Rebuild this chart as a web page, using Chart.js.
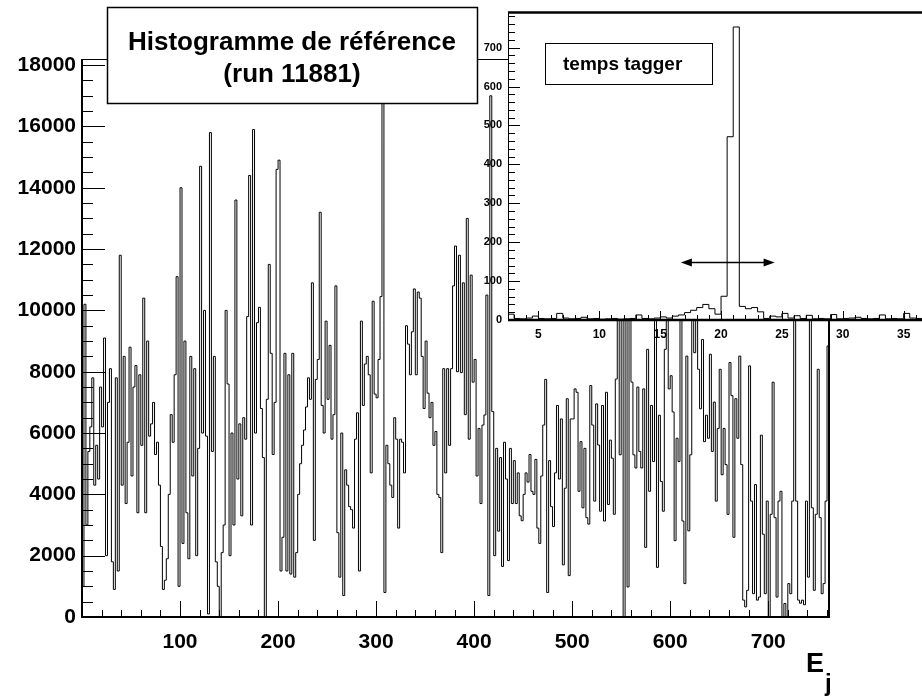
<!DOCTYPE html>
<html>
<head>
<meta charset="utf-8">
<script src="https://cdn.jsdelivr.net/npm/chart.js@4.4.1/dist/chart.umd.min.js"></script>
<style>
  html, body { margin:0; padding:0; background:#fff; overflow:hidden; }
  #wrap  { position:relative; width:922px; height:698px; overflow:hidden; }
  #main  { position:absolute; left:0; top:0; }
  #inset { position:absolute; left:470px; top:0; }
</style>
</head>
<body>
<div id="wrap">
  <canvas id="main" width="922" height="698"></canvas>
  <canvas id="inset" width="470" height="350"></canvas>
</div>
<script>
// main histogram: bins of 2 units from 0 to 762
const binWidth = 2;
const xMin = 0, xMax = 762, yMax = 18200;
const xTicks = [100, 200, 300, 400, 500, 600, 700];
const yTicks = [0, 2000, 4000, 6000, 8000, 10000, 12000, 14000, 16000, 18000];

const counts000 = [1000,10200,3000,5400,6200,7800,4300,5600,4500,7500, 6200,9100,2000,7000,8100,1800,900,7800,1500,11800,
                   4300,8500,3700,5700,8800,4600,7500,8200,3400,7900, 5600,10400,3400,9000,5900,6300,7000,5300,5700,4300,
                   2300,900,1200,1900,4000,6600,5700,7900,11100,1000];
const counts100 = [14000,2400,9000,3400,1900,8500,4600,8100,2000,5500, 14700,6000,10000,5900,100,15800,5400,8500,1800,1000,
                   0,2100,3000,10000,7600,2000,6000,3000,13600,4500, 6300,3300,6500,5800,9800,14400,3000,15900,6000,9600,
                   10100,6800,5200,0,7100,11500,8600,5300,7000,14600];
const counts200 = [14900,1500,2600,8600,1500,7900,1400,8600,1300,2100, 4000,5000,5600,6100,6850,7800,7100,10900,2500,7750,
                   8400,13200,6900,6000,9650,7100,8860,5800,6600,10800, 2750,1300,6000,700,4800,4300,3600,3500,2900,5800,
                   6660,1500,9650,6900,8250,8500,7900,4700,10300,7270];
const counts300 = [7150,8400,10450,26000,800,5600,5000,4300,3900,6500, 5800,2900,5800,5700,4700,9500,8900,7900,9300,10700,
                   7900,10600,10400,8500,6800,9000,7300,6500,7000,5600, 6050,4000,3900,2100,8100,4700,8100,5600,8100,10800,
                   12100,8000,11800,7970,10900,6600,13000,5800,11150,7660];
const counts400 = [8400,4600,6150,3700,6260,6590,10500,700,17000,6700, 2000,5500,2800,5200,1650,5700,4500,1840,5500,3700,
                   5100,3700,4700,3300,3140,4000,4700,4400,5300,4100, 4000,5140,2900,2400,4600,6260,7750,800,5100,3600,
                   2950,4700,6900,4500,6460,1700,4200,7120,1350,6460];
const counts500 = [6460,7440,7330,4100,5720,3560,5500,3240,3030,7550, 6260,3780,6950,5610,3450,6900,3130,7330,3670,5770,
                   5180,3350,7760,10500,5290,11000,0,10000,980,10000, 7660,5290,4860,7500,5400,4860,7440,2270,8730,4100,
                   6900,5070,10500,1620,6580,4420,3450,8730,11000,7440];
const counts600 = [7870,6690,2490,5830,5070,10500,3130,1090,8510,2810, 5290,11000,8620,10000,8080,6790,9050,5720,6580,5830,
                   8570,5400,7010,3780,6150,8080,4640,6150,4970,3350, 8300,7220,2600,7120,5830,8510,4970,550,330,870,
                   8190,3780,760,4320,550,650,5930,2700,760,3780];
const counts700 = [0,3350,7660,3240,650,3780,4100,0,440,0, 1090,760,3780,10000,3780,550,450,550,400,3780,
                   1300,10500,3560,870,3350,8080,3240,760,1090,3780, 8840];

// inset "temps tagger": bins of 0.5 from 2.5 to 37
const tagStart = 2.5, tagBin = 0.5, tagXMax = 37, tagYMax = 790;
const tagXTicks = [5, 10, 15, 20, 25, 30, 35];
const tagYTicks = [0, 100, 200, 300, 400, 500, 600, 700];
const tagCounts = [15,4,3,5,10,4,3,4,17,5, 3,4,7,3,4,2,3,4,2,3,
                   4,13,4,3,5,8,5,10,13,19, 25,32,40,29,15,61,471,753,35,29,
                   32,21,4,10,8,17,5,11,4,12, 3,4,3,14,3,4,5,7,4,3,
                   4,13,3,4,3,17,5,4,3];
const arrowFrom = 16.7, arrowTo = 24.4, arrowLevel = 150;

const titleLines = ['Histogramme de référence', '(run 11881)'];
const insetTitle = 'temps tagger';
const FONT = "'Liberation Sans', Arial, sans-serif";

const mainCounts = [].concat(counts000, counts100, counts200, counts300, counts400, counts500, counts600, counts700);

// one point per bin low edge plus the last upper edge; 'before' keeps each value over its own bin
function toSteps(counts, start, width) {
  const pts = counts.map((v, i) => ({x: start + i * width, y: v}));
  pts.push({x: start + counts.length * width, y: counts[counts.length - 1]});
  return pts;
}

function line(ctx, x1, y1, x2, y2) {
  ctx.beginPath(); ctx.moveTo(x1, y1); ctx.lineTo(x2, y2); ctx.stroke();
}

const fixTicks = list => s => { s.ticks = list.map(v => ({value: v})); };

const mainDecor = {
  id: 'mainDecor',
  afterDraw(chart) {
    const {ctx, chartArea: a, scales: {x, y}} = chart;
    ctx.save();
    ctx.strokeStyle = '#000';
    ctx.lineWidth = 1;
    // ticks inside the frame
    for (let v = 0; v <= xMax; v += 20) {
      const px = Math.round(x.getPixelForValue(v)) + 0.5;
      line(ctx, px, a.bottom, px, a.bottom - (v % 100 === 0 ? 16 : 7));
    }
    for (let v = 0; v <= yMax; v += 500) {
      const py = Math.round(y.getPixelForValue(v)) + 0.5;
      line(ctx, a.left, py, a.left + (v % 2000 === 0 ? 23 : 11), py);
    }
    ctx.lineWidth = 2;
    line(ctx, a.left, a.top, a.left, a.bottom + 1);
    line(ctx, a.left - 1, a.bottom, a.right + 1, a.bottom);
    line(ctx, a.right, a.top, a.right, a.bottom);
    ctx.lineWidth = 1;
    line(ctx, a.left, a.top + 0.5, a.right, a.top + 0.5);

    // title pave
    ctx.fillStyle = '#fff';
    ctx.fillRect(107, 7, 371, 97);
    ctx.lineWidth = 1.5;
    ctx.strokeRect(107.5, 7.5, 370, 96);
    ctx.fillStyle = '#000';
    ctx.textAlign = 'center';
    ctx.textBaseline = 'alphabetic';
    ctx.font = `bold 26px ${FONT}`;
    ctx.fillText(titleLines[0], 292, 50);
    ctx.fillText(titleLines[1], 292, 82);

    // axis title E_j
    ctx.textAlign = 'left';
    ctx.font = `bold 27px ${FONT}`;
    ctx.fillText('E', 806, 672);
    ctx.font = `bold 24px ${FONT}`;
    ctx.fillText('j', 825, 691);
    ctx.restore();
  }
};

const insetDecor = {
  id: 'insetDecor',
  beforeDraw(chart) {
    const {ctx, chartArea: a} = chart;
    ctx.save();
    ctx.fillStyle = '#fff';
    ctx.fillRect(a.left, a.top, a.right - a.left, a.bottom - a.top);
    ctx.restore();
  },
  afterDraw(chart) {
    const {ctx, chartArea: a, scales: {x, y}} = chart;
    ctx.save();
    ctx.strokeStyle = '#000';
    ctx.fillStyle = '#000';
    ctx.lineWidth = 1;
    for (let v = 3; v <= tagXMax; v += 1) {
      const px = Math.round(x.getPixelForValue(v)) + 0.5;
      line(ctx, px, a.bottom, px, a.bottom - (v % 5 === 0 ? 9 : 5));
    }
    for (let v = 0; v <= tagYMax; v += 20) {
      const py = Math.round(y.getPixelForValue(v)) + 0.5;
      line(ctx, a.left, py, a.left + (v % 100 === 0 ? 12 : 7), py);
    }
    line(ctx, a.left + 0.5, a.top, a.left + 0.5, a.bottom);
    ctx.lineWidth = 2.5;
    line(ctx, a.left, a.top, a.right, a.top);
    line(ctx, a.left, a.bottom, a.right, a.bottom);

    // double arrow
    const x1 = x.getPixelForValue(arrowFrom), x2 = x.getPixelForValue(arrowTo);
    const ya = Math.round(y.getPixelForValue(arrowLevel)) + 0.5;
    ctx.lineWidth = 1.5;
    line(ctx, x1 + 6, ya, x2 - 6, ya);
    ctx.beginPath();
    ctx.moveTo(x1, ya); ctx.lineTo(x1 + 11, ya - 4); ctx.lineTo(x1 + 11, ya + 4); ctx.closePath();
    ctx.moveTo(x2, ya); ctx.lineTo(x2 - 11, ya - 4); ctx.lineTo(x2 - 11, ya + 4); ctx.closePath();
    ctx.fill();

    // label pave
    ctx.lineWidth = 1;
    ctx.strokeRect(75.5, 43.5, 167, 41);
    ctx.font = `bold 19px ${FONT}`;
    ctx.textAlign = 'left';
    ctx.textBaseline = 'alphabetic';
    ctx.fillText(insetTitle, 93, 70);
    ctx.restore();
  }
};

new Chart(document.getElementById('main'), {
  type: 'line',
  data: {datasets: [{
    data: toSteps(mainCounts, xMin, binWidth),
    borderColor: '#000', borderWidth: 1, pointRadius: 0, stepped: 'before', fill: false
  }]},
  options: {
    responsive: false, animation: false, events: [],
    layout: {padding: {top: 59, right: 93, left: 0, bottom: 0}},
    plugins: {legend: {display: false}, tooltip: {enabled: false}},
    scales: {
      x: {
        type: 'linear', min: xMin, max: xMax,
        grid: {display: false, drawTicks: false}, border: {display: false},
        ticks: {padding: 13, color: '#000', maxRotation: 0, autoSkip: false,
                font: {family: FONT, size: 21, weight: 'bold'}, callback: v => String(v)},
        afterBuildTicks: fixTicks(xTicks),
        afterFit: s => { s.height = 81; }
      },
      y: {
        type: 'linear', min: 0, max: yMax,
        grid: {display: false, drawTicks: false}, border: {display: false},
        ticks: {padding: 6, color: '#000', autoSkip: false,
                font: {family: FONT, size: 21, weight: 'bold'}, callback: v => String(v)},
        afterBuildTicks: fixTicks(yTicks),
        afterFit: s => { s.width = 82; }
      }
    }
  },
  plugins: [mainDecor]
});

new Chart(document.getElementById('inset'), {
  type: 'line',
  data: {datasets: [{
    data: toSteps(tagCounts, tagStart, tagBin),
    borderColor: '#000', borderWidth: 1, pointRadius: 0, stepped: 'before', fill: false
  }]},
  options: {
    responsive: false, animation: false, events: [],
    layout: {padding: {top: 8, right: 12, left: 0, bottom: 0}},
    plugins: {legend: {display: false}, tooltip: {enabled: false}},
    scales: {
      x: {
        type: 'linear', min: tagStart, max: tagXMax,
        grid: {display: false, drawTicks: false}, border: {display: false},
        ticks: {padding: 7, color: '#000', maxRotation: 0, autoSkip: false,
                font: {family: FONT, size: 12, weight: 'bold'}, callback: v => String(v)},
        afterBuildTicks: fixTicks(tagXTicks),
        afterFit: s => { s.height = 30; }
      },
      y: {
        type: 'linear', min: 0, max: tagYMax,
        grid: {display: false, drawTicks: false}, border: {display: false},
        ticks: {padding: 6, color: '#000', autoSkip: false,
                font: {family: FONT, size: 11, weight: 'bold'}, callback: v => String(v)},
        afterBuildTicks: fixTicks(tagYTicks),
        afterFit: s => { s.width = 38; }
      }
    }
  },
  plugins: [insetDecor]
});
</script>
</body>
</html>
